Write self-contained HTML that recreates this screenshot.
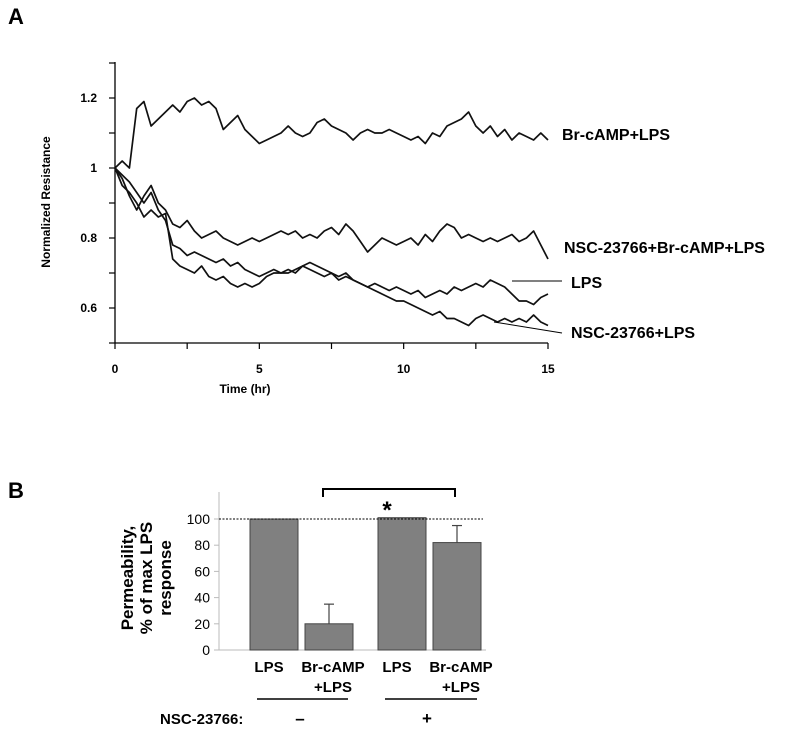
<!DOCTYPE html>
<html><head><meta charset="utf-8"><style>
body{margin:0;background:#fff;}
svg{display:block;font-family:"Liberation Sans",Arial,sans-serif;}
</style></head><body>
<svg id="fig" width="800" height="735" viewBox="0 0 800 735">
<text x="8" y="24" font-size="22" font-weight="bold">A</text>
<g id="pa"></g>
<text x="8" y="498" font-size="22" font-weight="bold">B</text>
<g id="pb"></g>
</svg>
<script>
const NS='http://www.w3.org/2000/svg';
function mk(p,tag,a,txt){const e=document.createElementNS(NS,tag);for(const k in a)e.setAttribute(k,a[k]);if(txt!==undefined)e.textContent=txt;p.appendChild(e);return e;}

// ---- Panel A data ----
const seriesBr=[1.00,1.02,1.00,1.17,1.19,1.12,1.14,1.16,1.18,1.16,1.19,1.20,1.18,1.19,1.17,1.11,1.13,1.15,1.11,1.09,1.07,1.08,1.09,1.10,1.12,1.10,1.09,1.10,1.13,1.14,1.12,1.11,1.10,1.08,1.10,1.11,1.10,1.10,1.11,1.10,1.09,1.08,1.09,1.07,1.10,1.09,1.12,1.13,1.14,1.16,1.12,1.10,1.12,1.09,1.11,1.08,1.10,1.09,1.08,1.10,1.08];
const seriesNscBr=[1.0,0.97,0.92,0.88,0.92,0.95,0.90,0.88,0.84,0.83,0.85,0.82,0.80,0.81,0.82,0.80,0.79,0.78,0.79,0.80,0.79,0.80,0.81,0.82,0.81,0.82,0.80,0.81,0.80,0.82,0.83,0.81,0.84,0.82,0.79,0.76,0.78,0.80,0.79,0.78,0.79,0.80,0.78,0.81,0.79,0.82,0.84,0.83,0.80,0.81,0.80,0.79,0.80,0.79,0.80,0.81,0.79,0.80,0.82,0.78,0.74];
const seriesLps=[1.0,0.98,0.96,0.93,0.90,0.93,0.88,0.85,0.78,0.77,0.75,0.76,0.75,0.74,0.73,0.74,0.72,0.73,0.71,0.70,0.69,0.70,0.71,0.70,0.70,0.71,0.72,0.71,0.70,0.69,0.70,0.68,0.69,0.68,0.67,0.66,0.67,0.66,0.65,0.66,0.65,0.64,0.65,0.63,0.64,0.65,0.64,0.66,0.65,0.66,0.67,0.66,0.68,0.67,0.66,0.64,0.62,0.62,0.61,0.63,0.64];
const seriesNscLps=[1.0,0.95,0.93,0.90,0.86,0.88,0.86,0.87,0.74,0.72,0.71,0.70,0.72,0.69,0.68,0.69,0.67,0.66,0.67,0.66,0.67,0.69,0.70,0.70,0.71,0.70,0.72,0.73,0.72,0.71,0.70,0.69,0.70,0.68,0.67,0.66,0.65,0.64,0.63,0.62,0.62,0.61,0.60,0.59,0.58,0.59,0.57,0.57,0.56,0.55,0.57,0.58,0.57,0.56,0.57,0.56,0.57,0.56,0.58,0.56,0.55];
const timeMax=15;
const yTickLabels=['0.6','0.8','1','1.2'];
const xTickLabels=['0','5','10','15'];

const ax=v=>115+v*(548-115)/15;
const ay=v=>343-(v-0.5)*350;
const pa=document.getElementById('pa');
let e;
e=mk(pa,'line',{x1:115,y1:62,x2:115,y2:343,stroke:'#000','stroke-width':1.3});


e=mk(pa,'line',{x1:115,y1:343,x2:548,y2:343,stroke:'#000','stroke-width':1.3});


for(let v=0.5;v<=1.31;v+=0.1){mk(pa,'line',{x1:109,x2:115,y1:ay(v),y2:ay(v),stroke:'#000','stroke-width':1.2});}
yTickLabels.forEach(s=>{e=mk(pa,'text',{x:97,y:ay(+s)+4,'font-size':12,'font-weight':'bold','text-anchor':'end'},s);

});
for(let t=0;t<=15;t+=2.5){mk(pa,'line',{x1:ax(t),x2:ax(t),y1:343,y2:349,stroke:'#000','stroke-width':1.2});}
xTickLabels.forEach(s=>{e=mk(pa,'text',{x:ax(+s),y:373,'font-size':12,'font-weight':'bold','text-anchor':'middle'},s);

});
e=mk(pa,'text',{x:245,y:393,'font-size':12,'font-weight':'bold','text-anchor':'middle'},'Time (hr)');


e=mk(pa,'text',{x:50,y:202,'font-size':12,'font-weight':'bold','text-anchor':'middle',transform:'rotate(-90 50 202)'},'Normalized Resistance');


function line(arr,name){const pts=arr.map((v,i)=>ax(i*timeMax/(arr.length-1)).toFixed(1)+','+ay(v).toFixed(1)).join(' ');
const p=mk(pa,'polyline',{points:pts,fill:'none',stroke:'#111','stroke-width':1.7,'stroke-linejoin':'round'});

}
line(seriesBr,'line-br-camp-lps');line(seriesNscBr,'line-nsc-br-camp-lps');line(seriesLps,'line-lps');line(seriesNscLps,'line-nsc-lps');
const labs=[['Br-cAMP+LPS',562,140],['NSC-23766+Br-cAMP+LPS',564,253],['LPS',571,288],['NSC-23766+LPS',571,338]];
labs.forEach(l=>{e=mk(pa,'text',{x:l[1],y:l[2],'font-size':16,'font-weight':'bold'},l[0]);

});
mk(pa,'line',{x1:512,y1:281,x2:562,y2:281,stroke:'#000','stroke-width':1});
mk(pa,'line',{x1:494,y1:322,x2:562,y2:333,stroke:'#000','stroke-width':1});

// ---- Panel B data ----
const barCats=['LPS','Br-cAMP','LPS','Br-cAMP'];
const barVals=[100,20,101,82];
const barErr=[0,15,0,13];
const bTicks=['0','20','40','60','80','100'];
const by=v=>650-v*1.31;
const barX=[250,305,378,433];
const pb=document.getElementById('pb');
e=mk(pb,'line',{x1:219,y1:492,x2:219,y2:650,stroke:'#bbb','stroke-width':1});


e=mk(pb,'line',{x1:214,y1:650,x2:486,y2:650,stroke:'#bbb','stroke-width':1});


bTicks.forEach(s=>{mk(pb,'line',{x1:214,x2:219,y1:by(+s),y2:by(+s),stroke:'#bbb'});
e=mk(pb,'text',{x:210,y:by(+s)+5,'font-size':14,'text-anchor':'end'},s);

});
barVals.forEach((v,i)=>{
e=mk(pb,'rect',{x:barX[i],y:by(v),width:48,height:650-by(v),fill:'#808080',stroke:'#444','stroke-width':1});


if(barErr[i]>0){const cx=barX[i]+24;
mk(pb,'line',{x1:cx,x2:cx,y1:by(v),y2:by(v+barErr[i]),stroke:'#444','stroke-width':1.2});
mk(pb,'line',{x1:cx-5,x2:cx+5,y1:by(v+barErr[i]),y2:by(v+barErr[i]),stroke:'#444','stroke-width':1.2});}
});
e=mk(pb,'line',{x1:219,y1:by(100),x2:483,y2:by(100),stroke:'#000','stroke-width':1,'stroke-dasharray':'2,1.5'});


e=mk(pb,'path',{d:'M323,497 V489 H455 V497',fill:'none',stroke:'#000','stroke-width':2});


e=mk(pb,'text',{x:387,y:518,'font-size':24,'font-weight':'bold','text-anchor':'middle'},'*');


barCats.forEach((c,i)=>{const cx=barX[i]+24+(i%2?4:-5);
e=mk(pb,'text',{x:cx,y:672,'font-size':15,'font-weight':'bold','text-anchor':'middle'},c);


if(i%2){e=mk(pb,'text',{x:cx,y:692,'font-size':15,'font-weight':'bold','text-anchor':'middle'},'+LPS');

}});
mk(pb,'line',{x1:257,y1:699,x2:348,y2:699,stroke:'#000','stroke-width':1.5});
mk(pb,'line',{x1:385,y1:699,x2:477,y2:699,stroke:'#000','stroke-width':1.5});
e=mk(pb,'text',{x:160,y:724,'font-size':15,'font-weight':'bold'},'NSC-23766:');


mk(pb,'text',{x:300,y:724,'font-size':17,'font-weight':'bold','text-anchor':'middle'},'–');
mk(pb,'text',{x:427,y:724,'font-size':17,'font-weight':'bold','text-anchor':'middle'},'+');
e=mk(pb,'text',{transform:'translate(146,578) rotate(-90)','font-size':17,'font-weight':'bold','text-anchor':'middle'});


['Permeability,','% of max LPS','response'].forEach((s,i)=>mk(e,'tspan',{x:0,y:(i-1)*19+6},s));
</script>
</body></html>
